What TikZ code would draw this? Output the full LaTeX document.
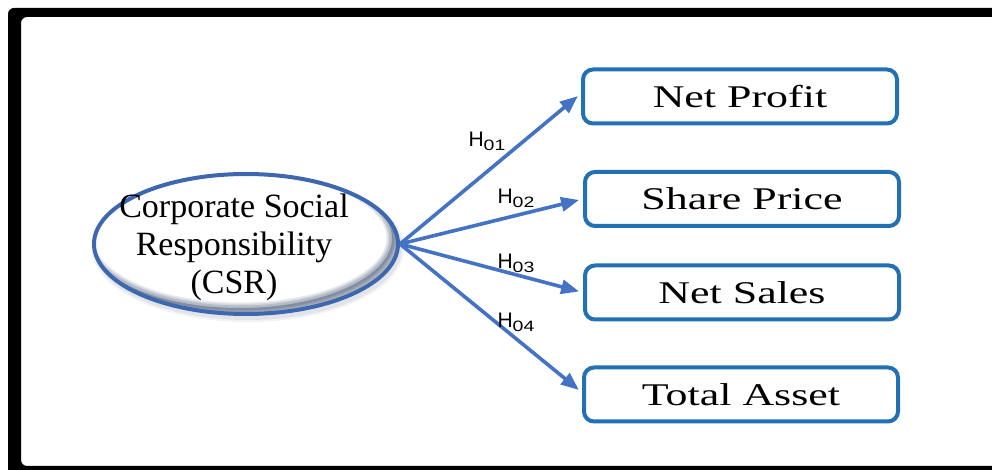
\documentclass[tikz,border=0pt]{standalone}
\usepackage{fontspec}
\setmainfont{Liberation Serif}
\newfontfamily\labelfont{Liberation Sans}
\usetikzlibrary{arrows.meta,shapes.geometric}

\definecolor{arrowblue}{HTML}{4472C4}
\definecolor{boxblue}{HTML}{2371B3}
\definecolor{ringblue}{HTML}{3D67AE}
\definecolor{shadownavy}{HTML}{2A3B5C}

\tikzset{
  varbox/.style={draw=boxblue, line width=2pt, rounded corners=5pt, fill=white,
    minimum width=157pt, minimum height=27pt, inner sep=0pt,
    font=\fontsize{15.8}{18}\selectfont},
  csrnode/.style={ellipse, draw=ringblue, line width=2pt,
    minimum width=152pt, minimum height=70pt, inner sep=0pt},
  csrtext/.style={align=center, inner sep=0pt, font=\fontsize{17}{19}\selectfont},
  hyp/.style={-{Triangle[length=9pt,width=7pt]}, draw=arrowblue, line width=1.8pt,
    shorten >=2pt},
  hlabel/.style={font=\labelfont\fontsize{10.5}{12}\selectfont, inner sep=0pt}
}
\newcommand{\stretchtext}[1]{\scalebox{1.39}[1]{#1}}
\newcommand{\hyplabel}[1]{H\raisebox{-0.35ex}{\scalebox{1.3}[1]{\fontsize{7.5}{8}\selectfont #1}}}

\begin{document}
\begin{tikzpicture}[x=0.5pt,y=-0.5pt]
\useasboundingbox (0,0) rectangle (992,470);
\fill[white] (0,0) rectangle (992,470);

% heavy black frame, open past the right and bottom edges
\begin{scope}
  \clip (0,0) rectangle (992,470);
  \fill[black, even odd rule, rounded corners=3pt]
    (8,8) rectangle (1010,490)
    (21,17) rectangle (1010,466);
\end{scope}

% faint drop shadow below the ellipse
\foreach \w/\o in {4/0.06, 2/0.08}
  \draw[shadownavy, line width=\w pt, opacity=\o] (248,248) ellipse [x radius=152, y radius=70];
\fill[white] (246,244) ellipse [x radius=152, y radius=70];

% inner bevel shadow, towards the lower right only
\begin{scope}
  \clip (246,244) ellipse [x radius=152, y radius=70];
  \fill[shadownavy, opacity=0.35, even odd rule]
    (246,244) ellipse [x radius=160, y radius=78]
    (240,238) ellipse [x radius=152, y radius=70];
  \foreach \w/\o in {5.5/0.10, 4/0.12, 2.5/0.16}
    \draw[shadownavy, line width=\w pt, opacity=\o] (240,238) ellipse [x radius=152, y radius=70];
\end{scope}

% central construct
\node[csrnode] (csr) at (246,244) {};
\node[csrtext] (csrlabel) at ([xshift=-6pt,yshift=-1.5pt]csr.center) {Corporate Social\\Responsibility\\(CSR)};
\coordinate (hub) at (csr.east);

% dependent variables
\node[varbox] (np) at (740,96.5)  {\stretchtext{Net Profit}};
\node[varbox] (sp) at (742,199)   {\stretchtext{Share Price}};
\node[varbox] (ns) at (742,292.5) {\stretchtext{Net Sales}};
\node[varbox] (ta) at (741,394.5) {\stretchtext{Total Asset}};

% hypothesised links
\draw[hyp] (hub) -- ([yshift=1.5pt]np.west);
\draw[hyp] (hub) -- (sp.west);
\draw[hyp] (hub) -- (ns.west);
\draw[hyp] (hub) -- ([yshift=1pt]ta.west);

\node[hlabel] (h1) at (487,141) {\hyplabel{01}};
\node[hlabel] (h2) at (516,198) {\hyplabel{02}};
\node[hlabel] (h3) at (516,263) {\hyplabel{03}};
\node[hlabel] (h4) at (516,322) {\hyplabel{04}};
\end{tikzpicture}
\end{document}
